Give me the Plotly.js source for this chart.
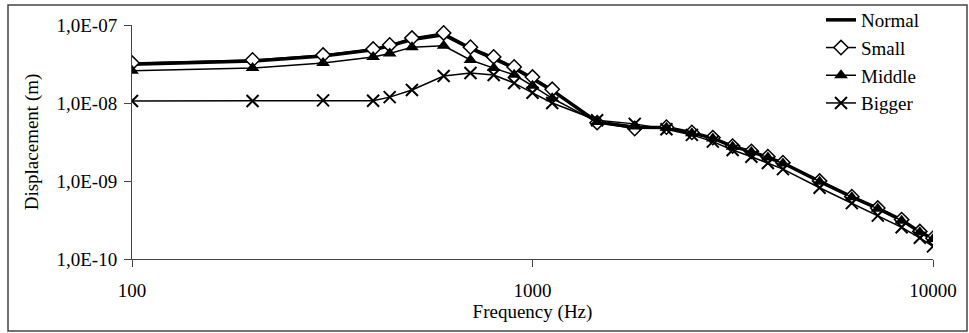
<!DOCTYPE html>
<html>
<head>
<meta charset="utf-8">
<script src="https://cdn.plot.ly/plotly-3.0.1.min.js"></script>
<style>html,body{margin:0;padding:0;background:#fff;font-family:'Liberation Serif',serif;}#chart{width:969px;height:333px;}</style>
</head>
<body>
<div id="chart"></div>
<script>
const freq = [100,200,300,400,440,500,600,700,800,900,1000,1120,1450,1800,2160,2500,2820,3160,3520,3870,4220,5210,6270,7280,8350,9270,10000];
const normal = [3.15e-8,3.45e-8,4.0e-8,4.8e-8,5.4e-8,6.5e-8,7.5e-8,5.0e-8,3.7e-8,2.8e-8,2.05e-8,1.45e-8,5.7e-9,4.9e-9,4.85e-9,4.15e-9,3.55e-9,2.78e-9,2.38e-9,2.02e-9,1.7e-9,9.9e-10,6.25e-10,4.45e-10,3.15e-10,2.22e-10,1.82e-10];
const small = [3.26e-8,3.56e-8,4.12e-8,4.92e-8,5.55e-8,6.8e-8,7.9e-8,5.2e-8,3.9e-8,2.9e-8,2.15e-8,1.5e-8,5.6e-9,4.7e-9,4.9e-9,4.2e-9,3.6e-9,2.8e-9,2.4e-9,2.05e-9,1.72e-9,1.0e-9,6.3e-10,4.5e-10,3.2e-10,2.25e-10,1.85e-10];
const middle = [2.6e-8,2.8e-8,3.26e-8,3.89e-8,4.3e-8,5.2e-8,5.4e-8,3.56e-8,2.8e-8,2.3e-8,1.66e-8,1.15e-8,5.7e-9,5.0e-9,4.8e-9,4.1e-9,3.5e-9,2.75e-9,2.35e-9,2.0e-9,1.68e-9,9.8e-10,6.2e-10,4.4e-10,3.1e-10,2.2e-10,1.8e-10];
const bigger = [1.06e-8,1.06e-8,1.08e-8,1.07e-8,1.19e-8,1.47e-8,2.22e-8,2.43e-8,2.29e-8,1.8e-8,1.35e-8,1.0e-8,6.0e-9,5.4e-9,4.6e-9,3.9e-9,3.2e-9,2.5e-9,2.05e-9,1.7e-9,1.42e-9,8.2e-10,5.2e-10,3.6e-10,2.55e-10,1.87e-10,1.45e-10];
const seriesNames = ['Normal','Small','Middle','Bigger'];
const xTickVals = [100,1000,10000];
const xTickText = ['100','1000','10000'];
const yTickVals = [1e-10,1e-9,1e-8,1e-7];
const yTickText = ['1,0E-10','1,0E-09','1,0E-08','1,0E-07'];

const FONT = "Liberation Serif";
const traces = [
  {x: freq, y: normal, name: seriesNames[0], mode: 'lines', line: {color: '#000', width: 3.5}},
  {x: freq, y: small, name: seriesNames[1], mode: 'lines+markers', line: {color: '#000', width: 1.5},
   marker: {symbol: 'diamond', size: 11, color: '#fff', line: {color: '#000', width: 1.5}}},
  {x: freq, y: middle, name: seriesNames[2], mode: 'lines+markers', line: {color: '#000', width: 1.5},
   marker: {symbol: 'triangle-up', size: 12, color: '#000', line: {color: '#000', width: 0}}},
  {x: freq, y: bigger, name: seriesNames[3], mode: 'lines+markers', line: {color: '#000', width: 1.5},
   marker: {symbol: 'x-thin', size: 12, color: '#000', line: {color: '#000', width: 2}}}
];

const plotW = 969 - 132 - 36, plotH = 333 - 25 - 74;
const layout = {
  width: 969, height: 333,
  margin: {l: 132, r: 36, t: 25, b: 74, autoexpand: false},
  paper_bgcolor: '#fff', plot_bgcolor: '#fff',
  font: {family: FONT, size: 19, color: '#000'},
  showlegend: true,
  legend: {x: (821 - 132) / plotW, y: (259 - 1) / plotH, xanchor: 'left', yanchor: 'top',
           bgcolor: 'rgba(0,0,0,0)', borderwidth: 0},
  xaxis: {type: 'log', range: [2, 4], tickvals: xTickVals, ticktext: xTickText,
          ticks: 'outside', ticklen: 7, tickcolor: '#444', showline: true, linecolor: '#444', linewidth: 1,
          showgrid: false, zeroline: false, ticklabelstandoff: 7,
          title: {text: 'Frequency (Hz)', standoff: 1}},
  yaxis: {type: 'log', range: [-10, -7], tickvals: yTickVals, ticktext: yTickText,
          ticks: 'outside', ticklen: 7, tickcolor: '#444', showline: true, linecolor: '#444', linewidth: 1,
          showgrid: false, zeroline: false, ticklabelstandoff: 3,
          title: {text: 'Displacement (m)', standoff: 12}},
  shapes: [{type: 'rect', xref: 'paper', yref: 'paper',
            x0: (8 - 132) / plotW, x1: (967 - 132) / plotW,
            y0: (259 - 331) / plotH, y1: (259 - 5) / plotH,
            line: {color: '#444', width: 1.5}, fillcolor: 'rgba(0,0,0,0)', layer: 'below'}]
};
// title font sizes match tick labels (set after defaults so the family is inherited)
layout.xaxis.title.font = {size: 19};
layout.yaxis.title.font = {size: 19};
const config = {displayModeBar: false, staticPlot: true};
Plotly.newPlot('chart', traces, layout, config).then(function(gd){
  // redraw once the serif face is warm, so every label picks it up
  setTimeout(function(){ Plotly.react(gd, traces, layout, config); }, 40);
});
</script>
</body>
</html>
